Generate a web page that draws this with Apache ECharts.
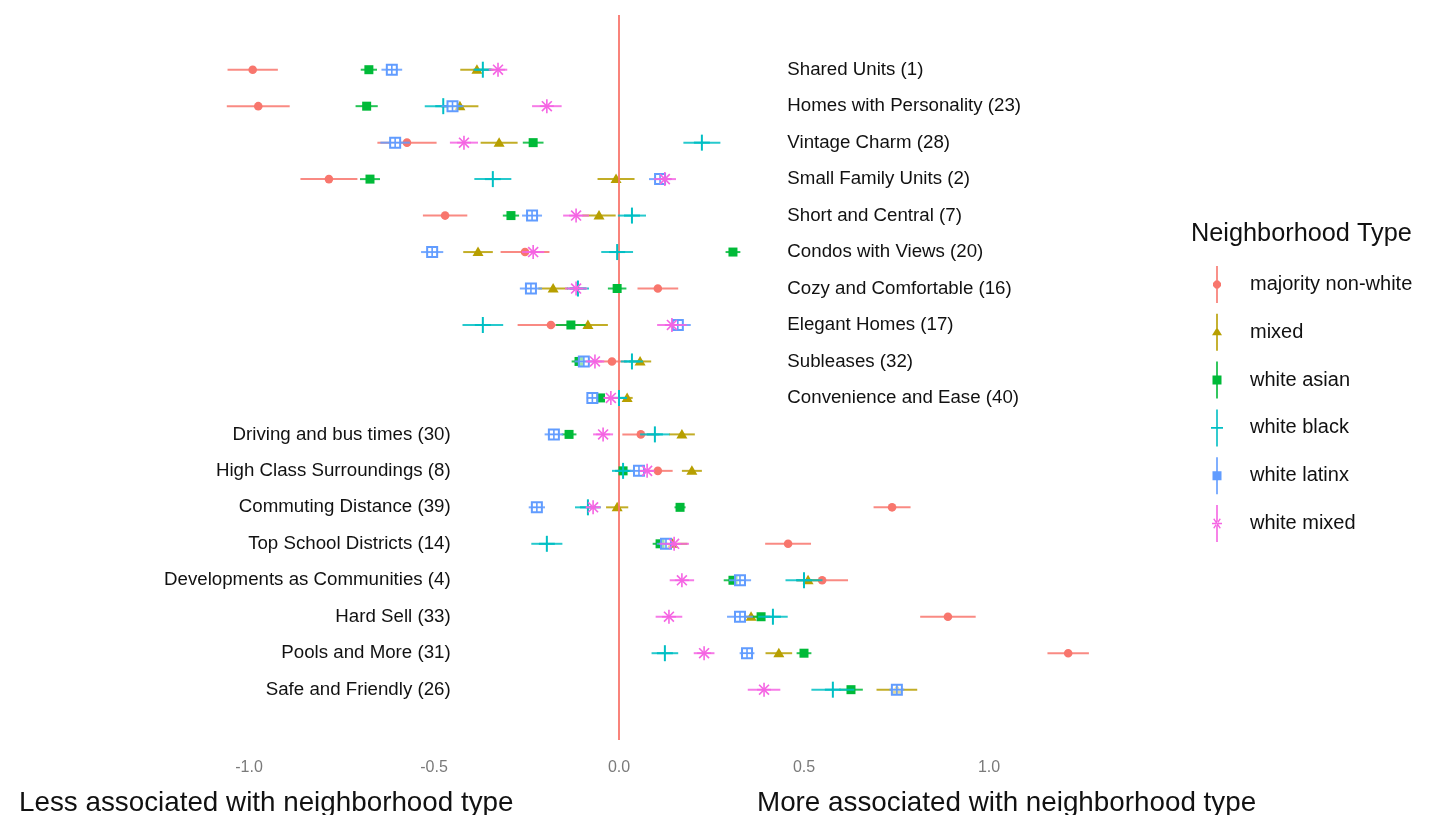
<!DOCTYPE html>
<html>
<head>
<meta charset="utf-8">
<script src="https://cdn.jsdelivr.net/npm/echarts@6/dist/echarts.min.js"></script>
<style>
html,body{margin:0;padding:0;background:#fff;}
#chart{width:1437px;height:815px;}
</style>
</head>
<body>
<div id="chart"></div>
<script>
// ---- data ----
const categories = [
  'Shared Units (1)', 'Homes with Personality (23)', 'Vintage Charm (28)', 'Small Family Units (2)',
  'Short and Central (7)', 'Condos with Views (20)', 'Cozy and Comfortable (16)', 'Elegant Homes (17)',
  'Subleases (32)', 'Convenience and Ease (40)', 'Driving and bus times (30)', 'High Class Surroundings (8)',
  'Commuting Distance (39)', 'Top School Districts (14)', 'Developments as Communities (4)', 'Hard Sell (33)',
  'Pools and More (31)', 'Safe and Friendly (26)'
];
const groupNames = ['majority non-white', 'mixed', 'white asian', 'white black', 'white latinx', 'white mixed'];

const majorityNonWhite    = [-0.99, -0.975, -0.573, -0.784, -0.47, -0.254, 0.105, -0.184, -0.019, null, 0.059, 0.105, 0.738, 0.457, 0.549, 0.889, 1.214, null];
const majorityNonWhiteErr = [0.068, 0.085, 0.08, 0.077, 0.06, 0.066, 0.055, 0.09, 0.04, null, 0.05, 0.04, 0.05, 0.062, 0.07, 0.075, 0.056, null];
const mixed               = [-0.384, -0.43, -0.324, -0.008, -0.054, -0.381, -0.178, -0.084, 0.057, 0.022, 0.17, 0.197, -0.005, 0.145, 0.511, 0.357, 0.432, 0.751];
const mixedErr            = [0.045, 0.05, 0.05, 0.05, 0.045, 0.04, 0.04, 0.054, 0.03, 0.015, 0.035, 0.027, 0.03, 0.04, 0.03, 0.02, 0.036, 0.055];
const whiteAsian          = [-0.676, -0.682, -0.232, -0.673, -0.292, 0.308, -0.005, -0.13, -0.108, -0.05, -0.135, 0.011, 0.165, 0.111, 0.308, 0.384, 0.5, 0.627];
const whiteAsianErr       = [0.022, 0.03, 0.028, 0.027, 0.022, 0.02, 0.025, 0.04, 0.02, 0.012, 0.02, 0.015, 0.015, 0.02, 0.025, 0.025, 0.02, 0.032];
const whiteBlack          = [-0.368, -0.475, 0.224, -0.341, 0.035, -0.005, -0.111, -0.368, 0.035, 0.0, 0.097, 0.011, -0.084, -0.195, 0.5, 0.416, 0.124, 0.578];
const whiteBlackErr       = [0.025, 0.05, 0.05, 0.05, 0.038, 0.043, 0.03, 0.055, 0.03, 0.02, 0.04, 0.03, 0.035, 0.042, 0.05, 0.04, 0.036, 0.058];
const whiteLatinx         = [-0.614, -0.45, -0.605, 0.111, -0.235, -0.505, -0.238, 0.159, -0.095, -0.072, -0.176, 0.054, -0.222, 0.127, 0.327, 0.327, 0.346, 0.751];
const whiteLatinxErr      = [0.028, 0.03, 0.04, 0.03, 0.027, 0.03, 0.03, 0.035, 0.025, 0.015, 0.025, 0.025, 0.022, 0.025, 0.03, 0.035, 0.02, 0.02];
const whiteMixed          = [-0.327, -0.195, -0.419, 0.124, -0.116, -0.232, -0.116, 0.143, -0.065, -0.022, -0.043, 0.076, -0.07, 0.149, 0.17, 0.135, 0.23, 0.392];
const whiteMixedErr       = [0.025, 0.04, 0.038, 0.03, 0.035, 0.03, 0.03, 0.04, 0.025, 0.02, 0.027, 0.02, 0.02, 0.04, 0.033, 0.036, 0.028, 0.044];

const xTicks = [-1.0, -0.5, 0.0, 0.5, 1.0];
const rightLabelCount = 10; // first rows have labels on the right side

// ---- styling ----
const colors = ['#F8766D', '#B79F00', '#00BA38', '#00BFC4', '#619CFF', '#F564E3'];
const shapes = ['circle', 'triangle', 'square', 'plus', 'boxplus', 'asterisk'];
const groupValues = [majorityNonWhite, mixed, whiteAsian, whiteBlack, whiteLatinx, whiteMixed];
const groupErrs = [majorityNonWhiteErr, mixedErr, whiteAsianErr, whiteBlackErr, whiteLatinxErr, whiteMixedErr];

function markerEls(shape, cx, cy, color) {
  const lw = 1.6;
  switch (shape) {
    case 'circle':
      return [{type: 'circle', shape: {cx: cx, cy: cy, r: 4.3}, style: {fill: color}}];
    case 'triangle':
      return [{type: 'polygon', shape: {points: [[cx, cy - 5.5], [cx + 5.5, cy + 4], [cx - 5.5, cy + 4]]}, style: {fill: color}}];
    case 'square':
      return [{type: 'rect', shape: {x: cx - 4.5, y: cy - 4.5, width: 9, height: 9}, style: {fill: color}}];
    case 'plus':
      return [
        {type: 'line', shape: {x1: cx, y1: cy - 8, x2: cx, y2: cy + 8}, style: {stroke: color, lineWidth: 2}},
        {type: 'line', shape: {x1: cx - 8, y1: cy, x2: cx + 8, y2: cy}, style: {stroke: color, lineWidth: 2}}
      ];
    case 'boxplus':
      return [
        {type: 'rect', shape: {x: cx - 5, y: cy - 5, width: 10, height: 10}, style: {fill: 'rgba(255,255,255,0.6)', stroke: color, lineWidth: 2}},
        {type: 'line', shape: {x1: cx, y1: cy - 5, x2: cx, y2: cy + 5}, style: {stroke: color, lineWidth: lw}},
        {type: 'line', shape: {x1: cx - 5, y1: cy, x2: cx + 5, y2: cy}, style: {stroke: color, lineWidth: lw}}
      ];
    case 'asterisk': {
      const r = 7, d = r * 0.7071;
      return [
        {type: 'line', shape: {x1: cx, y1: cy - r, x2: cx, y2: cy + r}, style: {stroke: color, lineWidth: lw}},
        {type: 'line', shape: {x1: cx - r, y1: cy, x2: cx + r, y2: cy}, style: {stroke: color, lineWidth: lw}},
        {type: 'line', shape: {x1: cx - d, y1: cy - d, x2: cx + d, y2: cy + d}, style: {stroke: color, lineWidth: lw}},
        {type: 'line', shape: {x1: cx - d, y1: cy + d, x2: cx + d, y2: cy - d}, style: {stroke: color, lineWidth: lw}}
      ];
    }
  }
  return [];
}

// legend icons (12 x 37 box, zero-area helper subpath fixes bbox width)
const bboxFix = 'M0,18.5 L12,18.5 L0,18.5 Z ';
const vbar = 'M5.2,0 L6.8,0 L6.8,37 L5.2,37 Z ';
const legendIcons = {
  circle: 'path://' + bboxFix + vbar + 'M4.4,14.5 L7.6,14.5 L10,16.9 L10,20.1 L7.6,22.5 L4.4,22.5 L2,20.1 L2,16.9 Z',
  triangle: 'path://' + bboxFix + vbar + 'M6,13.5 L11,21.5 L1,21.5 Z',
  square: 'path://' + bboxFix + vbar + 'M1.5,14 L10.5,14 L10.5,23 L1.5,23 Z',
  plus: 'path://' + bboxFix + vbar + 'M0,17.7 L12,17.7 L12,19.3 L0,19.3 Z',
  boxplus: 'path://' + bboxFix + vbar + 'M1.5,14 L10.5,14 L10.5,23 L1.5,23 Z',
  asterisk: 'path://' + bboxFix + vbar + 'M1,17.8 L11,17.8 L11,19.2 L1,19.2 Z M2.2,14.2 L3.2,13.2 L9.8,22.8 L8.8,23.8 Z M9.8,14.2 L8.8,13.2 L2.2,22.8 L3.2,23.8 Z'
};

const series = groupNames.map(function (name, g) {
  const vals = groupValues[g], errs = groupErrs[g];
  const data = [];
  vals.forEach(function (v, i) {
    if (v === null || v === undefined) return;
    data.push([v, v - errs[i], v + errs[i], i]);
  });
  const color = colors[g], shape = shapes[g];
  return {
    name: name,
    type: 'custom',
    itemStyle: {color: color},
    encode: {x: [0, 1, 2], y: 3},
    data: data,
    z: 3 + g,
    renderItem: function (params, api) {
      const y = api.value(3);
      const c = api.coord([api.value(0), y]);
      const lo = api.coord([api.value(1), y]);
      const hi = api.coord([api.value(2), y]);
      const children = [{
        type: 'line',
        shape: {x1: lo[0], y1: lo[1], x2: hi[0], y2: hi[1]},
        style: {stroke: color, lineWidth: 2, opacity: 0.85}
      }].concat(markerEls(shape, c[0], c[1], color));
      return {type: 'group', children: children};
    }
  };
});

// category labels + zero line
const labelData = categories.map(function (name, i) {
  const right = i < rightLabelCount;
  return {
    value: [right ? 0.455 : -0.455, i],
    name: name,
    label: {position: right ? 'right' : 'left'}
  };
});
series.push({
  name: 'labels',
  type: 'scatter',
  symbolSize: 0,
  silent: true,
  z: 1,
  itemStyle: {opacity: 1},
  data: labelData,
  label: {
    show: true,
    distance: 0,
    formatter: function (p) { return p.name; },
    fontFamily: 'Liberation Sans, Arial, sans-serif',
    fontSize: 18.7,
    color: '#111111'
  },
  markLine: {
    silent: true,
    symbol: 'none',
    label: {show: false},
    lineStyle: {color: '#F8766D', width: 2, type: 'solid', opacity: 0.9},
    data: [{xAxis: 0}]
  }
});

const chart = echarts.init(document.getElementById('chart'), null, {renderer: 'canvas'});
chart.setOption({
  animation: false,
  backgroundColor: '#ffffff',
  textStyle: {fontFamily: 'Liberation Sans, Arial, sans-serif'},
  title: [
    {text: 'Neighborhood Type', left: 1186, top: 217, textStyle: {fontSize: 25.3, fontWeight: 'normal', color: '#111111'}},
    {text: 'Less associated with neighborhood type', left: 14, top: 784, textStyle: {fontSize: 27.8, fontWeight: 'normal', color: '#111111'}},
    {text: 'More associated with neighborhood type', left: 752, top: 784, textStyle: {fontSize: 27.8, fontWeight: 'normal', color: '#111111'}}
  ],
  legend: {
    orient: 'vertical',
    left: 1206,
    top: 261,
    itemWidth: 12,
    itemHeight: 37,
    itemGap: 10.8,
    selectedMode: false,
    itemStyle: {borderWidth: 0},
    textStyle: {fontSize: 20, color: '#111111', padding: [0, 0, 0, 22]},
    data: groupNames.map(function (n, g) { return {name: n, icon: legendIcons[shapes[g]]}; })
  },
  grid: {left: 64, right: 263, top: 15, bottom: 75},
  xAxis: {
    type: 'value',
    min: -1.5, max: 1.5, interval: 0.5,
    axisLine: {show: false}, axisTick: {show: false}, splitLine: {show: false},
    axisLabel: {
      margin: 20,
      fontSize: 16,
      color: '#7a7a7a',
      formatter: function (v) {
        return xTicks.some(function (t) { return Math.abs(t - v) < 1e-9; }) ? v.toFixed(1) : '';
      }
    }
  },
  yAxis: {
    type: 'value', inverse: true, min: -1.5, max: 18.38, show: false
  },
  series: series
});
</script>
</body>
</html>
